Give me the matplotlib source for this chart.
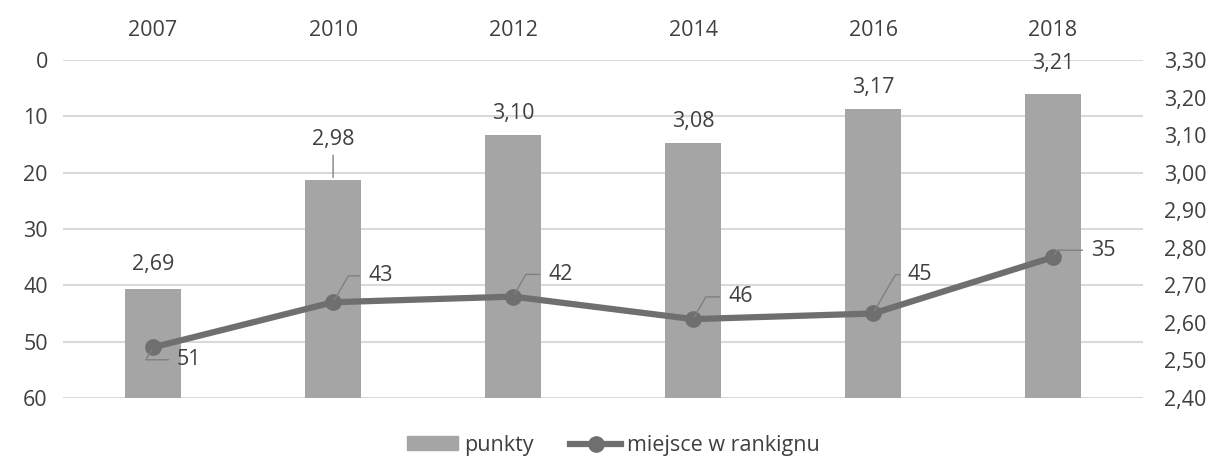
import matplotlib.pyplot as plt
from matplotlib.lines import Line2D
from matplotlib.patches import Patch

plt.rcParams['font.family'] = ['Open Sans', 'DejaVu Sans']

# data
years = ['2007', '2010', '2012', '2014', '2016', '2018']
punkty = [2.69, 2.98, 3.10, 3.08, 3.17, 3.21]
miejsce = [51, 43, 42, 46, 45, 35]

# label offsets (points) for the data labels
bar_lab_off = [(0, 10), (0, 22), (0, 8), (0, 8), (0, 8), (0, 14)]
line_lab_off = [(26, -9), (34, 19), (34, 16), (34, 16), (34, 28), (36, 5)]

txt = '#404040'
bar_c = '#a5a5a5'
line_c = '#6f6f6f'
grid_c = '#d9d9d9'
fs = 15.5

fig = plt.figure(figsize=(12.14, 4.59), dpi=100)
ax = fig.add_axes([0.052, 0.133, 0.8895, 0.736])
x = list(range(len(years)))

# left axis: rank (inverted), grid
ax.set_ylim(60, 0)
ax.set_yticks(range(0, 61, 10))
ax.set_xlim(-0.5, 5.5)
ax.set_xticks(x)
ax.set_xticklabels(years)
ax.xaxis.tick_top()
ax.tick_params(axis='both', length=0, labelsize=fs, colors=txt)
ax.tick_params(axis='x', pad=14)
ax.tick_params(axis='y', pad=11)
ax.grid(axis='y', color=grid_c, linewidth=1.5)
ax.set_axisbelow(True)
for s in ax.spines.values():
    s.set_visible(False)

# right axis: bars
ax2 = ax.twinx()
ax2.set_ylim(2.40, 3.30)
ax2.set_yticks([2.40 + 0.1 * i for i in range(10)])
ax2.set_yticklabels([f'{2.40 + 0.1 * i:.2f}'.replace('.', ',') for i in range(10)])
ax2.tick_params(axis='y', length=0, labelsize=fs, colors=txt, pad=15)
bars = ax2.bar(x, [p - 2.40 for p in punkty], bottom=2.40, width=0.31, color=bar_c)
for i, p in enumerate(punkty):
    ax2.annotate(f'{p:.2f}'.replace('.', ','), (i, p), xytext=bar_lab_off[i],
                 textcoords='offset points', ha='center', va='bottom',
                 fontsize=fs, color=txt,
                 arrowprops=dict(arrowstyle='-', color='#808080', lw=1) if i == 1 else None)
for s in ax2.spines.values():
    s.set_visible(False)

# line on top, same scale as left axis
ax3 = ax.twinx()
ax3.set_ylim(60, 0)
ax3.set_yticks([])
for s in ax3.spines.values():
    s.set_visible(False)
ax3.plot(x, miejsce, color=line_c, linewidth=4.5, marker='o', markersize=11,
         solid_capstyle='round')
for i, m in enumerate(miejsce):
    ax3.annotate(str(m), (i, m), xytext=line_lab_off[i], textcoords='offset points',
                 ha='center', va='center', fontsize=fs, color=txt,
                 arrowprops=dict(arrowstyle='-', color='#808080', lw=1,
                                 connectionstyle='angle,angleA=0,angleB=60,rad=0',
                                 shrinkA=4, shrinkB=2))

handles = [Patch(color=bar_c, label='punkty'),
           Line2D([0], [0], color=line_c, lw=4.5, marker='o', markersize=11,
                  label='miejsce w rankignu')]
fig.legend(handles=handles, loc='center', bbox_to_anchor=(0.505, 0.03), ncol=2,
           frameon=False, fontsize=fs, labelcolor=txt, handlelength=2.4,
           handleheight=0.6, handletextpad=0.25, columnspacing=1.7,
           borderpad=0.1)

fig.savefig('out.png', dpi=100)
